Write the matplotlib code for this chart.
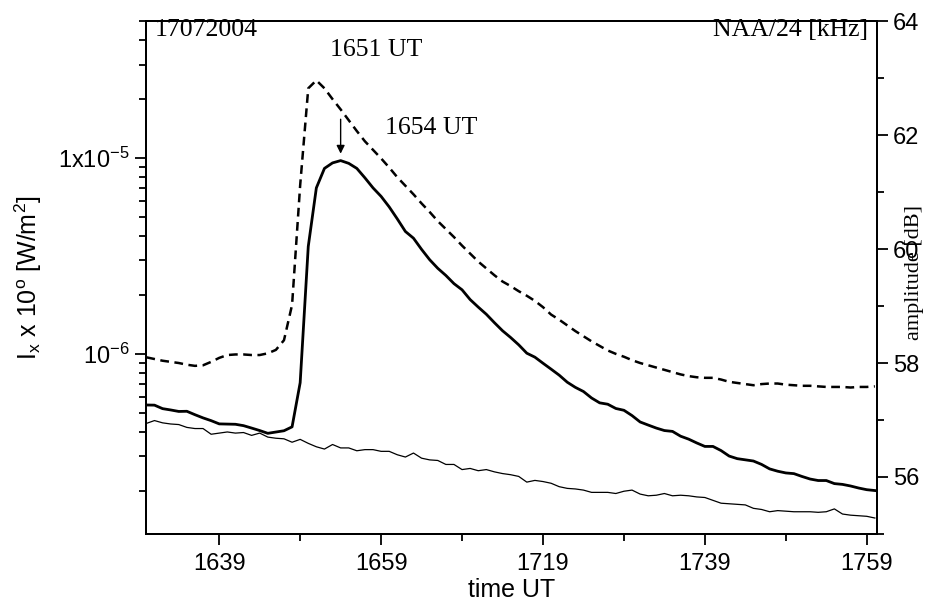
import numpy as np
import matplotlib
matplotlib.use("Agg")
import matplotlib.pyplot as plt
from matplotlib.ticker import FixedLocator, FixedFormatter, NullFormatter, LogLocator, MultipleLocator

plt.rcParams['font.family'] = ['Liberation Sans', 'DejaVu Sans']
plt.rcParams['mathtext.fontset'] = 'custom'
plt.rcParams['mathtext.rm'] = 'Liberation Sans'
plt.rcParams['mathtext.it'] = 'Liberation Sans:italic'

# time in minutes after midnight UT, 16:30 .. 18:00, 1-min samples
minutes = np.arange(16 * 60 + 30, 18 * 60 + 1)

# X-ray flux (x 1e-6 W/m^2), thick line
xray = np.array([
    0.547, 0.546, 0.524, 0.516, 0.507, 0.508, 0.488, 0.470, 0.455, 0.438,
    0.437, 0.436, 0.429, 0.417, 0.405, 0.392, 0.398, 0.404, 0.423, 0.711,
    3.53, 7.03, 8.84, 9.43, 9.69, 9.38, 8.84, 7.91, 7.03, 6.36,
    5.62, 4.88, 4.21, 3.89, 3.41, 3.02, 2.73, 2.51, 2.28, 2.12,
    1.89, 1.73, 1.59, 1.44, 1.31, 1.21, 1.11, 1.006, 0.960, 0.894,
    0.834, 0.777, 0.715, 0.673, 0.641, 0.594, 0.561, 0.552, 0.525, 0.514,
    0.483, 0.448, 0.432, 0.417, 0.405, 0.401, 0.379, 0.366, 0.350, 0.336,
    0.336, 0.320, 0.300, 0.291, 0.287, 0.283, 0.272, 0.258, 0.251, 0.246,
    0.244, 0.236, 0.229, 0.225, 0.225, 0.217, 0.215, 0.211, 0.206, 0.202, 0.200,
]) * 1e-6

# NAA amplitude on the flare day (dB), dashed line
naa_amp = [
    58.10, 58.07, 58.04, 58.02, 58.00, 57.97, 57.95, 57.96, 58.02, 58.09,
    58.14, 58.15, 58.15, 58.14, 58.14, 58.17, 58.23, 58.40, 59.02, 61.12,
    62.82, 62.96, 62.82, 62.63, 62.45, 62.26, 62.07, 61.89, 61.74, 61.59,
    61.43, 61.26, 61.11, 60.96, 60.80, 60.65, 60.49, 60.35, 60.21, 60.06,
    59.92, 59.78, 59.66, 59.54, 59.43, 59.35, 59.26, 59.18, 59.09, 58.98,
    58.85, 58.76, 58.66, 58.56, 58.47, 58.38, 58.30, 58.22, 58.16, 58.11,
    58.05, 58.00, 57.96, 57.92, 57.88, 57.84, 57.80, 57.77, 57.75, 57.74,
    57.74, 57.71, 57.67, 57.65, 57.63, 57.61, 57.63, 57.64, 57.64, 57.62,
    57.61, 57.60, 57.60, 57.59, 57.58, 57.58, 57.58, 57.57, 57.58, 57.58, 57.59,
]

# reference amplitude (dB), thin line
ref_amp = [
    56.94, 56.99, 56.95, 56.93, 56.92, 56.87, 56.85, 56.85, 56.75, 56.77,
    56.79, 56.77, 56.78, 56.73, 56.77, 56.70, 56.68, 56.67, 56.61, 56.66,
    56.59, 56.53, 56.49, 56.57, 56.51, 56.51, 56.46, 56.48, 56.48, 56.45,
    56.45, 56.39, 56.35, 56.42, 56.33, 56.30, 56.29, 56.22, 56.22, 56.13,
    56.15, 56.11, 56.13, 56.09, 56.06, 56.04, 56.01, 55.91, 55.94, 55.92,
    55.89, 55.83, 55.80, 55.79, 55.77, 55.73, 55.73, 55.73, 55.71, 55.75,
    55.77, 55.70, 55.67, 55.68, 55.71, 55.67, 55.68, 55.67, 55.65, 55.64,
    55.59, 55.54, 55.53, 55.52, 55.51, 55.45, 55.43, 55.39, 55.41, 55.40,
    55.39, 55.39, 55.39, 55.38, 55.39, 55.44, 55.35, 55.33, 55.32, 55.31, 55.28,
]

xtick_pos = [999, 1019, 1039, 1059, 1079]
xtick_labels = ['1639', '1659', '1719', '1739', '1759']
xtick_minor = [1009, 1029, 1049, 1069]

fig = plt.figure(figsize=(9.43, 6.02), dpi=100)
ax = fig.add_axes([0.1548, 0.113, 0.7755, 0.852])
ax2 = ax.twinx()

ax.plot(minutes, xray, color='k', lw=2.0)
ax2.plot(minutes, naa_amp, color='k', lw=1.8, ls=(0, (3.5, 2.2)))
ax2.plot(minutes, ref_amp, color='k', lw=0.9)

ax.set_xlim(989.95, 1080.3)
ax.set_yscale('log')
ax.set_ylim(1.2e-7, 5e-5)
ax2.set_ylim(55, 64)

ax.xaxis.set_major_locator(FixedLocator(xtick_pos))
ax.xaxis.set_major_formatter(FixedFormatter(xtick_labels))
ax.xaxis.set_minor_locator(FixedLocator(xtick_minor))

ax.yaxis.set_major_locator(FixedLocator([1e-6, 1e-5]))
ax.yaxis.set_major_formatter(FixedFormatter(['10$^{-6}$', '1x10$^{-5}$']))
ax.yaxis.set_minor_locator(LogLocator(base=10, subs=np.arange(2, 10)))
ax.yaxis.set_minor_formatter(NullFormatter())

ax2.yaxis.set_major_locator(FixedLocator([56, 58, 60, 62, 64]))
ax2.yaxis.set_minor_locator(MultipleLocator(1))

for a in (ax, ax2):
    a.tick_params(which='major', length=8, width=1.3, labelsize=17, direction='out')
    a.tick_params(which='minor', length=5, width=1.3, direction='out')
    for s in a.spines.values():
        s.set_linewidth(1.4)
ax.tick_params(axis='x', pad=6)

ax.set_xlabel('time UT', fontsize=18)
ax.xaxis.set_label_coords(0.5, -0.085)
ax.set_ylabel(r'I$_\mathrm{x}$ x 10$^\mathrm{o}$ [W/m$^2$]', fontsize=18)
ax.yaxis.set_label_coords(-0.14, 0.5)
ax2.set_ylabel('amplitude [dB]', fontsize=16, family='Liberation Serif')
ax2.yaxis.set_label_coords(1.038, 0.51)

serif = 'Liberation Serif'
ax.text(0.012, 1.005, '17072004', transform=ax.transAxes, ha='left', va='top',
        fontsize=18.5, family=serif)
ax.text(0.988, 1.005, 'NAA/24 [kHz]', transform=ax.transAxes, ha='right', va='top',
        fontsize=18.5, family=serif)
ax.text(0.252, 0.943, '1651 UT', transform=ax.transAxes, ha='left', va='center',
        fontsize=18.5, family=serif)
ax.text(0.327, 0.791, '1654 UT', transform=ax.transAxes, ha='left', va='center',
        fontsize=18.5, family=serif)

ipk = int(np.argmax(xray))
ax.annotate('', xy=(minutes[ipk], xray[ipk] * 1.05), xytext=(minutes[ipk], xray[ipk] * 1.68),
            arrowprops=dict(arrowstyle='-|>', color='k', lw=1.0, mutation_scale=12))

fig.savefig('out.png', dpi=100)
